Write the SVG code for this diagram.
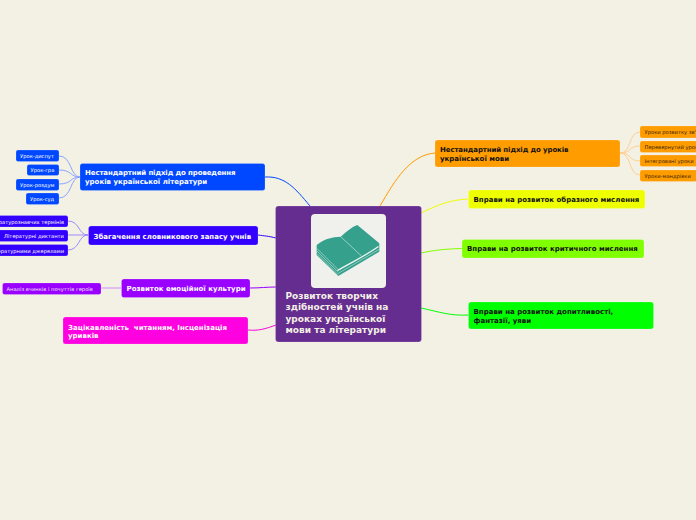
<svg xmlns="http://www.w3.org/2000/svg" width="696" height="520" viewBox="0 0 696 520">
<style>
text{font-family:"DejaVu Sans",sans-serif;font-weight:700}
rect.n{stroke:#fff;stroke-opacity:.3;stroke-width:.6}
.m{font-size:7px}
.s{font-size:5.2px;font-weight:400}
.c{font-size:9px;fill:#f3f0e4}
.w{fill:#fff}
.b{fill:#111}
.sw{fill:#fff}
.so{fill:#3a2404}
.con{fill:none;stroke-width:1}
</style>
<rect width="696" height="520" fill="#f3f0e4"/>
<g id="connectors" class="con">
<path d="M310 206C295 188 285 176 265 177" stroke="#0048ff"/>
<path d="M276 238C268 236 265 236 258 235" stroke="#3300ff"/>
<path d="M276 287C267 287 260 288 250 288" stroke="#9900ff"/>
<path d="M276 325C265 329 258 331 248 330" stroke="#ff00e0"/>
<path d="M380 206C395 180 410 155 435 153" stroke="#ff9c00"/>
<path d="M421 213C440 204 450 200 468 199" stroke="#eeff00"/>
<path d="M421 253C435 250 445 249 462 248.500" stroke="#80ff00"/>
<path d="M421 308C440 312 450 316 468 315" stroke="#00ff00"/>
<g stroke="#8aa4ff"><path d="M80 177C70 177 72 156 59 156"/><path d="M80 177C70 177 72 170 59 170"/><path d="M80 177C70 177 72 184 59 184"/><path d="M80 177C70 177 72 198 59 198"/></g>
<g stroke="#9f8aff"><path d="M88 235C78 235 80 221 68 221"/><path d="M88 235H68"/><path d="M88 235C78 235 80 250 68 250"/></g>
<path d="M121 288H101" stroke="#d08aff"/>
<g stroke="#ffcf8f"><path d="M620 153C632 153 628 132 640 132"/><path d="M620 153C632 153 628 146 640 146"/><path d="M620 153C632 153 628 161 640 161"/><path d="M620 153C632 153 628 175 640 175"/></g>
</g>
<g id="center"><rect class="n" x="275.500" y="206" width="146" height="136" rx="3" fill="#662d91"/>
<rect x="311" y="214" width="75" height="74" rx="4" fill="#f0f0ec"/>
<path d="M316.700 245C324 239 332 237 340.700 236.700C347 231 352 227 357.300 225L379.300 243.300V251.700L338.300 276L316.700 255Z" fill="#35a08c"/>
<path d="M340.700 236.700L361.500 256" stroke="#d8ece8" stroke-width="0.600" fill="none"/>
<path d="M337.500 270.500C350 263 362 258 378.500 246.500" stroke="#f0f4f0" stroke-width="1.300" fill="none"/>
<path d="M338 273.500L379 249.500M317 248.500L338 269.500M317 251L338 272M317 253.500L338 274.500" stroke="#e4f2ee" stroke-width="0.500" fill="none"/>
<text class="c" x="285.500" y="299">Розвиток творчих</text><text class="c" x="285.500" y="310">здібностей учнів на</text><text class="c" x="285.500" y="321.500">уроках української</text><text class="c" x="285.500" y="332.500">мови та літератури</text></g>
<g id="n1"><rect class="n" x="80" y="163.500" width="185" height="27" rx="2.500" fill="#0048ff"/><text class="m w" x="85" y="175" textLength="150.500">Нестандартний підхід до проведення</text><text class="m w" x="85" y="184">уроків української літератури</text></g>
<g id="n1a"><rect class="n" x="16" y="150" width="43" height="11.500" rx="2" fill="#0048ff"/><text class="s sw" x="20" y="158">Урок-диспут</text></g>
<g id="n1b"><rect class="n" x="27" y="164.500" width="32" height="11" rx="2" fill="#0048ff"/><text class="s sw" x="30.500" y="172">Урок-гра</text></g>
<g id="n1c"><rect class="n" x="16" y="179" width="43" height="11.500" rx="2" fill="#0048ff"/><text class="s sw" x="20" y="187">Урок-роздум</text></g>
<g id="n1d"><rect class="n" x="26" y="193" width="33" height="11.500" rx="2" fill="#0048ff"/><text class="s sw" x="30" y="201">Урок-суд</text></g>
<g id="n2"><rect class="n" x="88.500" y="226" width="169.500" height="19" rx="2.500" fill="#3300ff"/><text class="m w" x="93.500" y="238.500">Збагачення словникового запасу учнів</text></g>
<g id="n2a"><rect class="n" x="-40" y="215.500" width="108" height="11.500" rx="2" fill="#3300ff"/><text class="s sw" x="64" y="223.500" text-anchor="end">Словник літературознавчих термінів</text></g>
<g id="n2b"><rect class="n" x="-2" y="230" width="70" height="11.500" rx="2" fill="#3300ff"/><text class="s sw" x="64" y="238" text-anchor="end">Літературні диктанти</text></g>
<g id="n2c"><rect class="n" x="-40" y="244.500" width="108" height="11.500" rx="2" fill="#3300ff"/><text class="s sw" x="64" y="252.500" text-anchor="end">Робота з літературними джерелами</text></g>
<g id="n3"><rect class="n" x="121.500" y="279" width="128.500" height="18.500" rx="2.500" fill="#9900ff"/><text class="m w" x="126.500" y="291">Розвиток емоційної культури</text></g>
<g id="n3a"><rect class="n" x="2.500" y="283" width="98.500" height="11.500" rx="2" fill="#9900ff"/><text class="s" fill="#f0e0ff" x="6.500" y="291">Аналіз вчинків і почуттів героїв</text></g>
<g id="n4"><rect class="n" x="63" y="317" width="185" height="27" rx="2.500" fill="#ff00e0"/><text class="m w" x="68" y="329.500" xml:space="preserve" textLength="159">Зацікавленість  читанням, Інсценізація</text><text class="m w" x="68" y="338">уривків</text></g>
<g id="n5"><rect class="n" x="435" y="140" width="185" height="27" rx="2.500" fill="#ff9c00"/><text class="m b" x="440" y="152" textLength="128.500">Нестандартний підхід до уроків</text><text class="m b" x="440" y="160.500">української мови</text></g>
<g id="n5a"><rect class="n" x="640" y="126" width="70" height="12" rx="2" fill="#ff9c00"/><text class="s so" x="644.500" y="134">Уроки розвитку зв'язного мовлення</text></g>
<g id="n5b"><rect class="n" x="640" y="141" width="70" height="11.500" rx="2" fill="#ff9c00"/><text class="s so" x="644.500" y="149">Перевернутий урок</text></g>
<g id="n5c"><rect class="n" x="640" y="155" width="70" height="11.500" rx="2" fill="#ff9c00"/><text class="s so" x="644.500" y="163">Інтегровані уроки</text></g>
<g id="n5d"><rect class="n" x="640" y="170" width="70" height="11.500" rx="2" fill="#ff9c00"/><text class="s so" x="644.500" y="178">Уроки-мандрівки</text></g>
<g id="n6"><rect class="n" x="468.500" y="190" width="176.500" height="18.500" rx="2.500" fill="#eeff00"/><text class="m b" x="473.500" y="202">Вправи на розвиток образного мислення</text></g>
<g id="n7"><rect class="n" x="462" y="239.500" width="182" height="18.500" rx="2.500" fill="#80ff00"/><text class="m b" x="467" y="251">Вправи на розвиток критичного мислення</text></g>
<g id="n8"><rect class="n" x="468.500" y="302" width="185" height="27" rx="2.500" fill="#00ff00"/><text class="m b" x="473.500" y="314">Вправи на розвиток допитливості,</text><text class="m b" x="473.500" y="322.500">фантазії, уяви</text></g>
</svg>
